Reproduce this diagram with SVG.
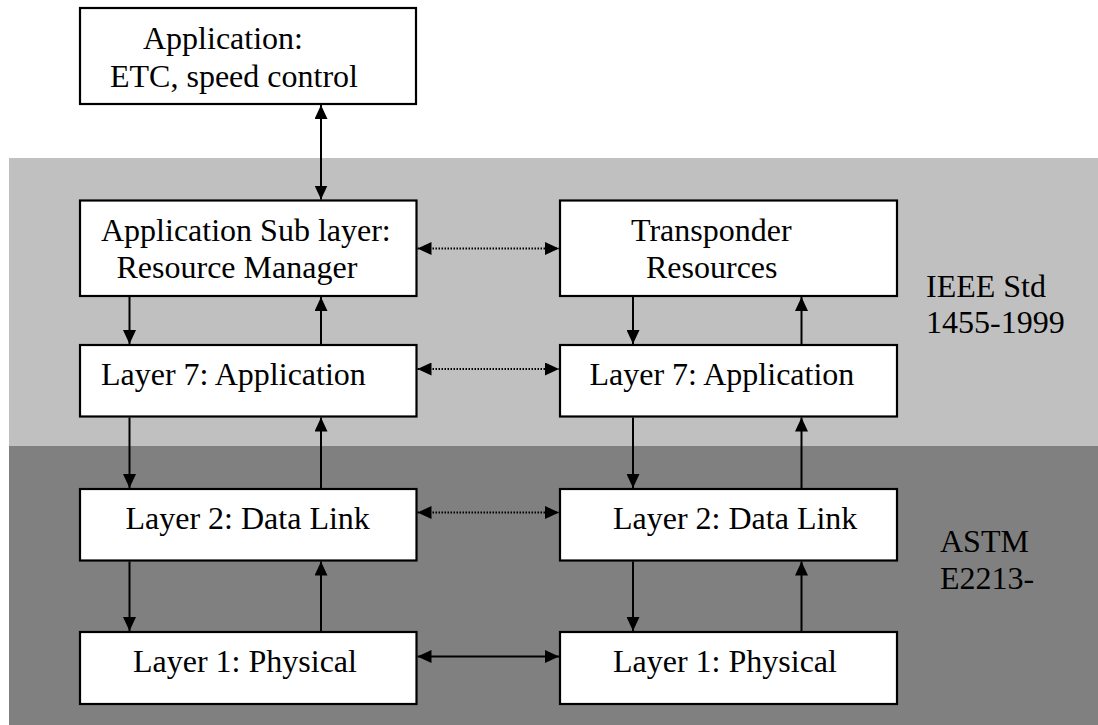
<svg xmlns="http://www.w3.org/2000/svg" width="1098" height="725" viewBox="0 0 1098 725">
<style>
.box{fill:#fff;stroke:#000;stroke-width:2.2}
text{font-family:'Liberation Serif','DejaVu Serif','Times New Roman',serif;font-size:32px;fill:#000}
.c{stroke:#000;stroke-width:2;fill:none}
.d{stroke:#000;stroke-width:2;fill:none;stroke-dasharray:1.5 1.5}
</style>
<defs>
<marker id="ah" markerUnits="userSpaceOnUse" viewBox="0 0 14 13" markerWidth="14" markerHeight="13" refX="14" refY="6.5" orient="auto-start-reverse">
<path d="M0,0 L14,6.5 L0,13 z" fill="#000"/>
</marker>
</defs>
<rect x="9" y="158" width="1089" height="288" fill="#c0c0c0"/>
<rect x="9" y="446" width="1089" height="279" fill="#808080"/>
<g id="label-ieee" font-family="Liberation Serif, serif"><text x="926" y="297">IEEE Std</text><text x="926" y="333">1455-1999</text></g>
<g id="label-astm" font-family="Liberation Serif, serif"><text x="940" y="552">ASTM</text><text x="940" y="589">E2213-</text></g>
<g id="app"><rect class="box" x="80" y="8" width="336" height="96"/><text x="143" y="49">Application:</text><text x="110" y="87">ETC, speed control</text></g>
<g id="rm"><rect class="box" x="80" y="200.5" width="336.5" height="95.5"/><text x="101" y="241">Application Sub layer:</text><text x="116.5" y="278">Resource Manager</text></g>
<g id="l7a"><rect class="box" x="80" y="345" width="336.5" height="71.5"/><text x="101" y="385">Layer 7: Application</text></g>
<g id="l2a"><rect class="box" x="80" y="489" width="336.5" height="71.5"/><text x="125.5" y="529">Layer 2: Data Link</text></g>
<g id="l1a"><rect class="box" x="80" y="632" width="336.5" height="72"/><text x="133" y="672">Layer 1: Physical</text></g>
<g id="tr"><rect class="box" x="560" y="200.5" width="337" height="95.5"/><text x="631" y="241">Transponder</text><text x="646" y="278">Resources</text></g>
<g id="l7b"><rect class="box" x="560" y="345" width="337" height="71.5"/><text x="589.5" y="385">Layer 7: Application</text></g>
<g id="l2b"><rect class="box" x="560" y="489" width="337" height="71.5"/><text x="613" y="529">Layer 2: Data Link</text></g>
<g id="l1b"><rect class="box" x="560" y="632" width="337" height="72"/><text x="613" y="672">Layer 1: Physical</text></g>
<g id="connectors">
<line class="c" x1="321" y1="105" x2="321" y2="199.5" marker-start="url(#ah)" marker-end="url(#ah)"/>
<line class="c" x1="129.5" y1="297" x2="129.5" y2="344" marker-end="url(#ah)"/>
<line class="c" x1="321" y1="344" x2="321" y2="297" marker-end="url(#ah)"/>
<line class="c" x1="129.5" y1="417.5" x2="129.5" y2="488" marker-end="url(#ah)"/>
<line class="c" x1="321" y1="488" x2="321" y2="417.5" marker-end="url(#ah)"/>
<line class="c" x1="129.5" y1="561.5" x2="129.5" y2="631" marker-end="url(#ah)"/>
<line class="c" x1="321" y1="631" x2="321" y2="561.5" marker-end="url(#ah)"/>
<line class="c" x1="633" y1="297" x2="633" y2="344" marker-end="url(#ah)"/>
<line class="c" x1="801.5" y1="344" x2="801.5" y2="297" marker-end="url(#ah)"/>
<line class="c" x1="633" y1="417.5" x2="633" y2="488" marker-end="url(#ah)"/>
<line class="c" x1="801.5" y1="488" x2="801.5" y2="417.5" marker-end="url(#ah)"/>
<line class="c" x1="633" y1="561.5" x2="633" y2="631" marker-end="url(#ah)"/>
<line class="c" x1="801.5" y1="631" x2="801.5" y2="561.5" marker-end="url(#ah)"/>
<line class="d" x1="417.5" y1="248.5" x2="559" y2="248.5" marker-start="url(#ah)" marker-end="url(#ah)"/>
<line class="d" x1="417.5" y1="369" x2="559" y2="369" marker-start="url(#ah)" marker-end="url(#ah)"/>
<line class="d" x1="417.5" y1="512.5" x2="559" y2="512.5" marker-start="url(#ah)" marker-end="url(#ah)"/>
<line class="c" x1="417.5" y1="656.5" x2="559" y2="656.5" marker-start="url(#ah)" marker-end="url(#ah)"/>
</g>
</svg>
